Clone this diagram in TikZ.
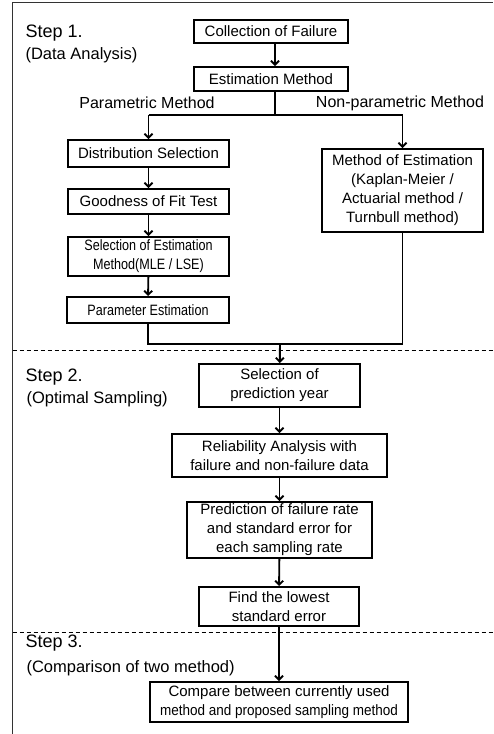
\documentclass[tikz,border=0pt]{standalone}
\usepackage{fontspec}
\setmainfont{Liberation Sans}
\usetikzlibrary{arrows.meta}
\begin{document}
\begin{tikzpicture}[x=1pt, y=-1pt, every node/.style={font=\fontsize{15}{19}\selectfont},
	box/.style={draw, line width=1.9pt, align=center, inner sep=1pt},
	narrow/.style={font=\fontsize{15}{19}\selectfont\addfontfeature{FakeStretch=0.84}},
	arr/.style={line width=1.9pt, -{Straight Barb[length=4pt,width=8pt,line width=1.9pt]}}]
	
		\useasboundingbox (0,0) rectangle (493,734);
		
		%Rahmen
		\draw[line width=0.8pt, black!80] (12.7,734) -- (12.7,2.7) -- (493,2.7);
		\foreach \y in {350,632} {
			\draw[thin, dashed, dash pattern=on 4pt off 3pt] (12.7,\y) -- (493,\y);
		}
		
		%Schritte
		\foreach \n/\y/\t in {s1/33/{Step 1.}, s2/377/{Step 2.}, s3/643/{Step 3.}} {
			\node[anchor=west, font=\fontsize{18}{20}\selectfont] (\n) at (22,\y) {\t};
		}
		\node[anchor=west, font=\fontsize{16.5}{18}\selectfont] (t1) at (22,55) {(Data Analysis)};
		\node[anchor=west, font=\fontsize{16.5}{18}\selectfont] (t2) at (23,399) {(Optimal Sampling)};
		\node[anchor=west, font=\fontsize{16.5}{18}\selectfont] (t3) at (23,668) {(Comparison of two method)};
		
		%Kaesten
		\node[box, minimum width=154, minimum height=23] (coll) at (271,31.5) {Collection of Failure};
		\node[box, minimum width=154, minimum height=24] (est) at (271,79) {Estimation Method};
		\node[box, minimum width=161, minimum height=27] (dist) at (148.5,153.5) {Distribution Selection};
		\node[box, minimum width=161, minimum height=25] (gof) at (148.5,201.5) {Goodness of Fit Test};
		\node[box, narrow, minimum width=161, minimum height=39] (sel) at (148.5,256.5) {Selection of Estimation\\Method(MLE / LSE)};
		\node[box, narrow, minimum width=162, minimum height=26] (par) at (148,310) {Parameter Estimation};
		\node[box, minimum width=161, minimum height=83] (moe) at (402.5,190.5) {Method of Estimation\\(Kaplan-Meier /\\Actuarial method /\\Turnbull method)};
		\node[box, minimum width=161, minimum height=43] (pred) at (279.5,385.5) {Selection of\\prediction year};
		\node[box, minimum width=215, minimum height=43] (rel) at (279.5,455.5) {Reliability Analysis with\\failure and non-failure data};
		\node[box, minimum width=185, minimum height=56] (prr) at (279.5,530) {Prediction of failure rate\\and standard error for\\each sampling rate};
		\node[box, minimum width=160, minimum height=39] (low) at (279,606.5) {Find the lowest\\standard error};
		\node[box, minimum width=258, minimum height=40] (cmp) at (279,702) {Compare between currently used\\{\addfontfeature{FakeStretch=0.9}method and proposed sampling method}};
		
		\node[font=\fontsize{16}{18}\selectfont] (lpar) at (147,103) {Parametric Method};
		\node[font=\fontsize{16}{18}\selectfont] (lnon) at (400,103) {Non-parametric Method};
		
		%Verbindungen
		\coordinate (split) at (275,115);
		\draw[arr] (coll.south -| split) -- (est.north -| split);
		\draw[line width=1.9pt] (est.south -| split) -- (split);
		\draw[line width=1.9pt] (dist.north |- split) -- (moe.north |- split);
		\draw[arr] (dist.north |- split) -- (dist);
		\draw[arr] (moe.north |- split) -- (moe);
		
		\coordinate (merge) at (280,344);
		\draw[line width=1.9pt] (par.south) -- (par.south |- merge) -- (moe.south |- merge) -- (moe.south);
		\draw[arr] (merge) -- (pred);
		
		\foreach \a/\b in {dist/gof, gof/sel, sel/par, pred/rel, rel/prr, prr/low, low/cmp} {
			\draw[arr] (\a) -- (\b);
		}
	\end{tikzpicture}
\end{document}
